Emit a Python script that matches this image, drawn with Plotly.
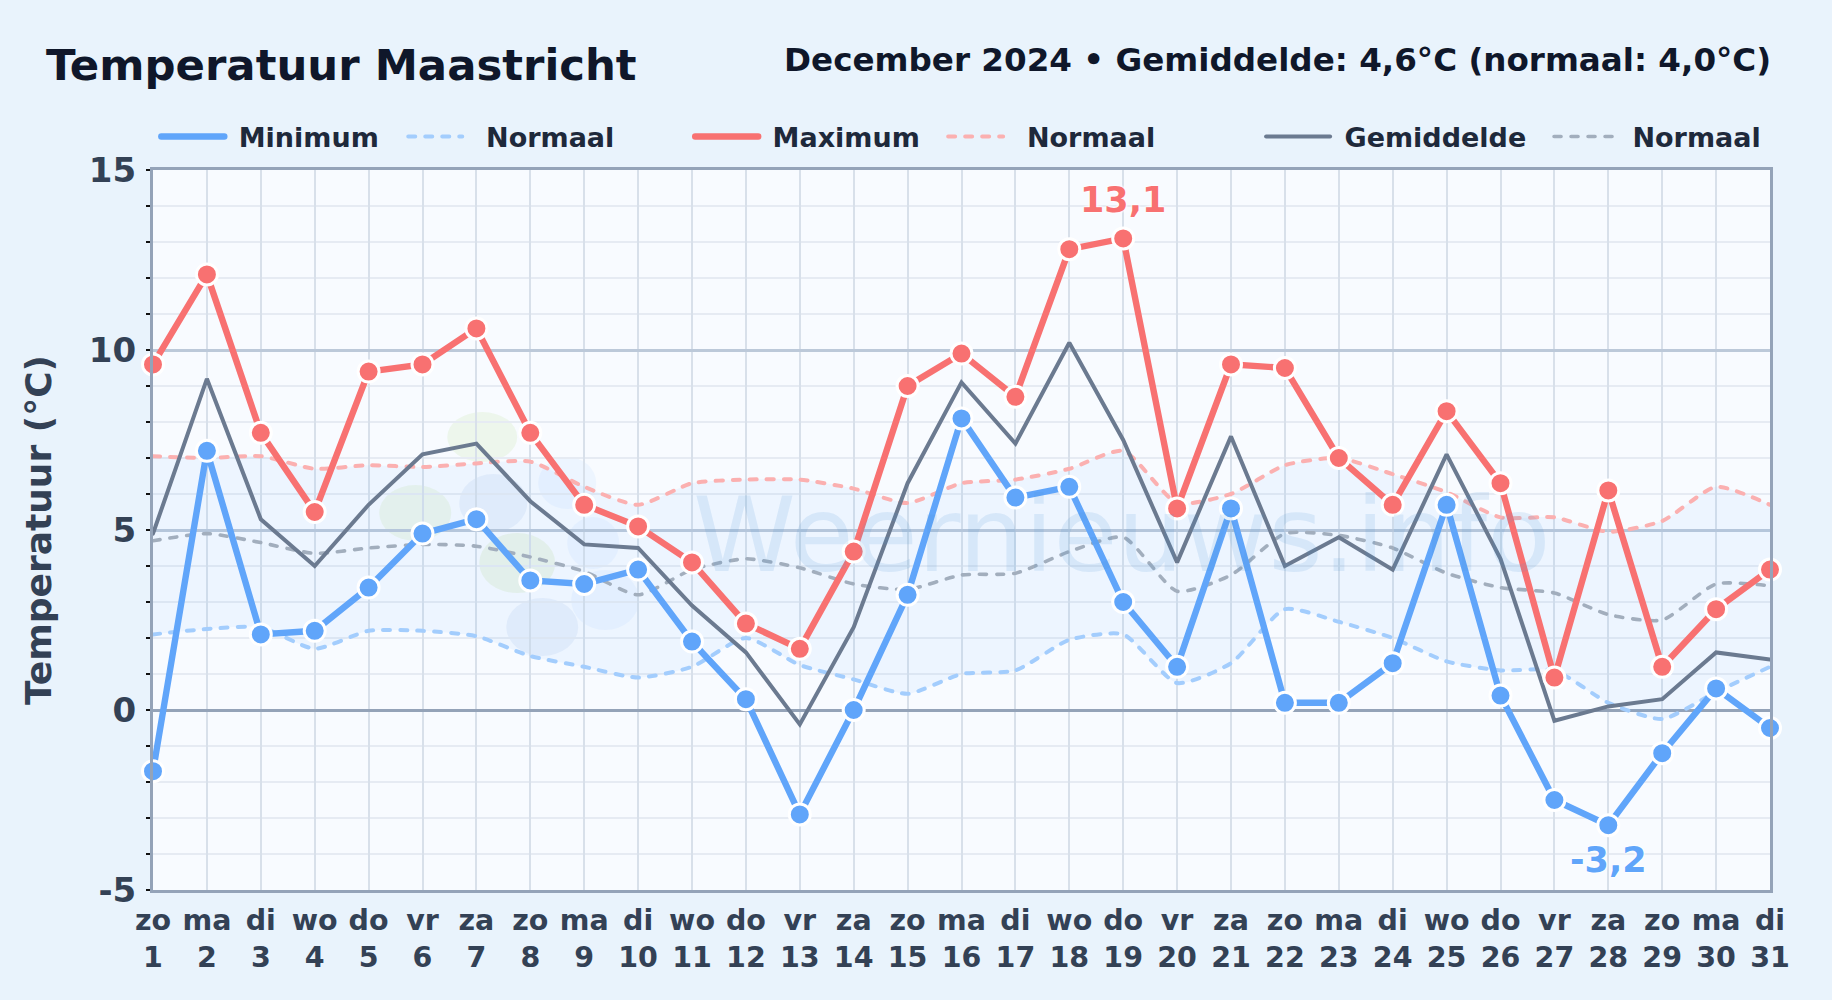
import plotly.graph_objects as go

days = list(range(1, 32))
weekdays = ["zo","ma","di","wo","do","vr","za"]
day_names = [weekdays[(d - 1) % 7] for d in days]
tick_labels = [f"{n}<br>{d}" for n, d in zip(day_names, days)]
y_ticks = [-5, 0, 5, 10, 15]
y_labels = ["-5", "0", "5", "10", "15"]

t_min = [-1.7,7.2,2.1,2.2,3.4,4.9,5.3,3.6,3.5,3.9,1.9,0.3,-2.9,0.0,3.2,8.1,5.9,6.2,3.0,1.2,5.6,0.2,0.2,1.3,5.7,0.4,-2.5,-3.2,-1.2,0.6,-0.5]
t_max = [9.6,12.1,7.7,5.5,9.4,9.6,10.6,7.7,5.7,5.1,4.1,2.4,1.7,4.4,9.0,9.9,8.7,12.8,13.1,5.6,9.6,9.5,7.0,5.7,8.3,6.3,0.9,6.1,1.2,2.8,3.9]
t_avg = [4.9,9.2,5.3,4.0,5.7,7.1,7.4,5.8,4.6,4.5,2.9,1.6,-0.4,2.3,6.3,9.1,7.4,10.2,7.5,4.1,7.6,4.0,4.8,3.9,7.1,4.2,-0.3,0.1,0.3,1.6,1.4]
norm_max = [7.05,7.0,7.05,6.7,6.8,6.75,6.85,6.9,6.2,5.7,6.3,6.4,6.4,6.15,5.75,6.3,6.4,6.7,7.2,5.75,6.0,6.8,7.0,6.55,6.05,5.35,5.35,4.95,5.25,6.2,5.7]
norm_min = [2.1,2.25,2.3,1.7,2.2,2.2,2.05,1.5,1.2,0.9,1.2,2.0,1.25,0.85,0.45,1.0,1.1,1.95,2.1,0.75,1.3,2.8,2.45,2.0,1.35,1.1,1.1,0.2,-0.25,0.5,1.2]
norm_avg = [4.7,4.9,4.65,4.35,4.5,4.6,4.55,4.25,3.85,3.2,3.9,4.2,3.95,3.5,3.35,3.75,3.8,4.4,4.8,3.3,3.75,4.9,4.85,4.5,3.8,3.4,3.25,2.65,2.5,3.5,3.45]

FONT = "DejaVu Sans"
C_MIN, C_MAX, C_AVG = "#60a5fa", "#f87171", "#6b7a90"
C_NMIN, C_NMAX, C_NAVG = "#a3cdfd", "#fbb0b0", "#a2aebd"
INK, TICK = "#0f172a", "#334155"
DASH = "7px,10px"
L, T, PW, PH = 152.7, 170, 1617.3, 720

fig = go.Figure()

fig.add_trace(go.Scatter(x=days, y=norm_max, mode="lines", line=dict(width=0, shape="spline", smoothing=0.6),
                         hoverinfo="skip", showlegend=False))
fig.add_trace(go.Scatter(x=days, y=norm_min, mode="lines", line=dict(width=0, shape="spline", smoothing=0.6),
                         fill="tonexty", fillcolor="rgba(96,165,250,0.065)", hoverinfo="skip", showlegend=False))

def line(y, name, color, width, legend, dash=None, spline=False):
    fig.add_trace(go.Scatter(
        x=days, y=y, name=name, mode="lines", legend=legend, cliponaxis=False,
        line=dict(color=color, width=width, dash=dash, shape="spline" if spline else "linear", smoothing=0.6)))

def dots(y, color):
    fig.add_trace(go.Scatter(
        x=days, y=y, mode="markers", showlegend=False, cliponaxis=False,
        marker=dict(color=color, size=21, line=dict(color="white", width=3))))

NB = "\u00a0"
line(norm_avg, NB + "Normaal", C_NAVG, 3.6, "legend6", DASH, True)
line(norm_min, NB + NB + "Normaal", C_NMIN, 4, "legend2", DASH, True)
line(norm_max, NB + NB + "Normaal", C_NMAX, 4, "legend4", DASH, True)
line(t_avg, NB + "Gemiddelde", C_AVG, 4, "legend5")
line(t_min, NB + "Minimum", C_MIN, 6.4, "legend")
line(t_max, NB + "Maximum", C_MAX, 6.4, "legend3")
dots(t_min, C_MIN)
dots(t_max, C_MAX)

# watermark logo: (centre x, centre y, half width, half height, colour) in page pixels
blobs = [(482,437,35,25,"rgba(190,225,150,0.18)"),(415,513,36,28,"rgba(190,225,150,0.18)"),
         (517,563,38,30,"rgba(190,225,150,0.20)"),(493,503,34,29,"rgba(90,145,215,0.09)"),
         (542,627,36,29,"rgba(90,145,215,0.09)"),(605,600,34,30,"rgba(96,165,250,0.07)"),
         (567,483,29,26,"rgba(96,165,250,0.07)"),(593,543,26,26,"rgba(96,165,250,0.07)")]
shapes = [dict(type="circle", xref="paper", yref="paper", layer="below", line_width=0, fillcolor=c,
               x0=(px-rx-L)/PW, x1=(px+rx-L)/PW, y0=(T+PH-py-ry)/PH, y1=(T+PH-py+ry)/PH)
          for px, py, rx, ry, c in blobs]

HALO = "0 0 3px white, 0 0 3px white, 0 0 3px white"
ann = [
    dict(x=0.599, y=0.493, xref="paper", yref="paper", text="Weernieuws.info", showarrow=False,
         font=dict(family=FONT, size=104, color="rgba(80,150,210,0.14)")),
    dict(x=19, y=13.1, text="13,1", showarrow=False, yshift=38,
         font=dict(family=FONT, size=35, color=C_MAX, weight="bold", shadow=HALO)),
    dict(x=28, y=-3.2, text="-3,2", showarrow=False, yshift=-35,
         font=dict(family=FONT, size=35, color=C_MIN, weight="bold", shadow=HALO)),
    dict(x=-0.0675, y=1.146, xref="paper", yref="paper", xanchor="left", yanchor="middle", showarrow=False,
         text="Temperatuur Maastricht", font=dict(family=FONT, size=43.4, color=INK, weight="bold")),
    dict(x=1.002, y=1.153, xref="paper", yref="paper", xanchor="right", yanchor="middle", showarrow=False,
         text="December 2024 • Gemiddelde: 4,6°C (normaal: 4,0°C)", font=dict(family=FONT, size=32.6, color=INK, weight="bold")),
]

def legend_box(start_px, item):
    return dict(orientation="h", x=(start_px - 4 - L) / PW, y=(T + PH - 137) / PH, xref="paper", yref="paper",
                xanchor="left", yanchor="middle", bgcolor="rgba(0,0,0,0)", itemwidth=item, itemclick=False,
                font=dict(family=FONT, size=27, color="#1e293b", weight="bold"))

fig.update_layout(
    width=1832, height=1000, autosize=False,
    margin=dict(l=L, r=1832-L-PW, t=T, b=1000-T-PH),
    paper_bgcolor="#e9f3fc", plot_bgcolor="#f8fbff",
    font=dict(family=FONT, color=TICK),
    hovermode=False,
    shapes=shapes, annotations=ann,
    legend=legend_box(160, 63), legend2=legend_box(407, 54), legend3=legend_box(694, 63),
    legend4=legend_box(947, 55), legend5=legend_box(1265, 64), legend6=legend_box(1553, 64),
    xaxis=dict(range=[1, 31], tickvals=days, ticktext=tick_labels, ticks="", showgrid=True,
               gridcolor="#d8e0ea", gridwidth=2, showline=True, linecolor="#94a3b8", linewidth=3, mirror=True,
               zeroline=False, ticklabelstandoff=3, tickfont=dict(family=FONT, size=28.5, color=TICK, weight="bold")),
    yaxis=dict(range=[-5, 15], tickvals=y_ticks, ticktext=y_labels, showgrid=True, gridcolor="#bcc9d9", gridwidth=2.5,
               showline=True, linecolor="#94a3b8", linewidth=3, mirror=True,
               zeroline=True, zerolinecolor="#94a3b8", zerolinewidth=3, ticklabelstandoff=7,
               tickfont=dict(family=FONT, size=34, color=TICK, weight="bold"), ticks="",
               title=dict(text="Temperatuur (°C)", standoff=27, font=dict(family=FONT, size=36, color=TICK, weight="bold")),
               minor=dict(dtick=1, tick0=0, showgrid=True, gridcolor="#e6ebf3", gridwidth=2, ticks="outside", ticklen=4, tickcolor="#111", tickwidth=1.5)),
)

post = """
document.body.style.margin='0';
document.body.style.background='#e9f3fc';
var s=document.createElement('style');
s.textContent='.js-line{stroke-linecap:round}';
document.head.appendChild(s);
document.querySelectorAll('.js-line').forEach(function(p){p.style.strokeLinecap='round';});
"""
fig.write_html("out.html", post_script=post, config={"displayModeBar": False})
